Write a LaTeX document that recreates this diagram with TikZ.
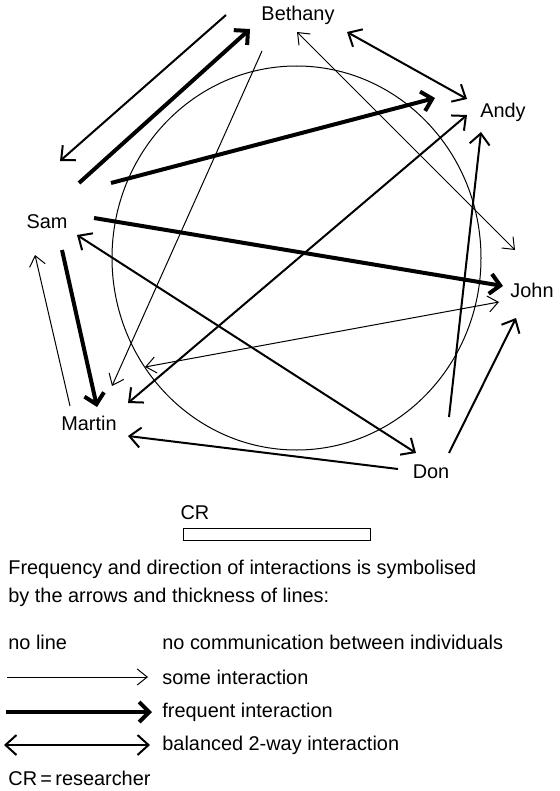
\documentclass[tikz,border=0pt]{standalone}
\usepackage{fontspec}
\setmainfont{Liberation Sans}
\usetikzlibrary{arrows.meta, calc}

\begin{document}
\begin{tikzpicture}[x=0.5pt, y=-0.5pt,
    every node/.style={font=\fontsize{9.95}{14}\selectfont, inner sep=0pt},
    some/.style={line width=0.5pt, -{Straight Barb[length=5pt, width=8pt]}},
    often/.style={line width=2pt, -{Straight Barb[length=5pt, width=10pt]}},
    mid/.style={line width=1pt, -{Straight Barb[length=5.5pt, width=10pt]}},
    both/.style={line width=1pt, {Straight Barb[length=5.5pt, width=10pt]}-{Straight Barb[length=5.5pt, width=10pt]}},
    boththin/.style={line width=0.5pt, {Straight Barb[length=5pt, width=8pt]}-{Straight Barb[length=5pt, width=8pt]}}]
  \useasboundingbox (0,0) rectangle (560,791);

  % researcher circle
  \draw[line width=0.5pt] (296.5,258) ellipse [x radius=184.5, y radius=192];

  % people
  \node (bethany) at (298,15) {Bethany};
  \node (andy) at (503,112) {Andy};
  \node (sam) at (47,222) {Sam};
  \node (john) at (532,290) {John};
  \node (martin) at (89,423) {Martin};
  \node (don) at (431,472) {Don};

  % interactions
  \draw[often] ($(sam)+(32,-39)$) -- ($(bethany)+(-48,14)$);
  \draw[mid] ($(bethany)+(-72,0)$) -- ($(sam)+(13,-61)$);
  \draw[often] ($(sam)+(64,-39)$) -- ($(andy)+(-68,-14)$);
  \draw[often] ($(sam)+(47,-4)$) -- ($(john)+(-29,-4)$);
  \draw[both] ($(bethany)+(49,17)$) -- ($(andy)+(-36,-13)$);
  \draw[some] ($(bethany)+(-36,36)$) -- ($(martin)+(23,-37)$);
  \draw[boththin] ($(bethany)+(-1,17)$) -- ($(john)+(-17,-40)$);
  \draw[both] ($(martin)+(39,-20)$) -- ($(andy)+(-36,3)$);
  \draw[mid] ($(don)+(18,-55)$) -- ($(andy)+(-22,20)$);
  \draw[mid] ($(don)+(18,-19)$) -- ($(john)+(-16,28)$);
  \draw[mid] ($(don)+(-33,-3)$) -- ($(martin)+(39,13)$);
  \draw[both] ($(sam)+(30,13)$) -- ($(don)+(-15,-19)$);
  \draw[boththin] ($(martin)+(56,-56)$) -- ($(john)+(-33,12)$);
  \draw[some] ($(martin)+(-19,-17)$) -- ($(sam)+(-12,33)$);
  \draw[often] ($(sam)+(15,28)$) -- ($(martin)+(8,-16)$);

  % CR bar
  \node (cr) at (195,513) {CR};
  \draw[line width=0.5pt] (183,528) rectangle (370,540);

  % key
  \node[anchor=west, align=left] (intro) at (8,583) {Frequency and direction of interactions is symbolised\\
    by the arrows and thickness of lines:};
  \node[anchor=west] (noline) at (8,642) {no line};
  \node[anchor=west] (nocomm) at (162,642) {no communication between individuals};
  \node[anchor=west] (somek) at (162,677) {some interaction};
  \node[anchor=west] (oftenk) at (162,712) {frequent interaction};
  \node[anchor=west] (bothk) at (162,745) {balanced 2-way interaction};
  \node[anchor=west] (crkey) at (8,778) {CR\,=\,researcher};
  \coordinate (s0) at (7,677);
  \coordinate (o0) at (6,712);
  \coordinate (b0) at (4,745);
  \draw[some] (s0) -- ($(somek.west)+(-14,0)$);
  \draw[often] (o0) -- ($(oftenk.west)+(-10,0)$);
  \draw[both] (b0) -- ($(bothk.west)+(-12,0)$);
\end{tikzpicture}
\end{document}
